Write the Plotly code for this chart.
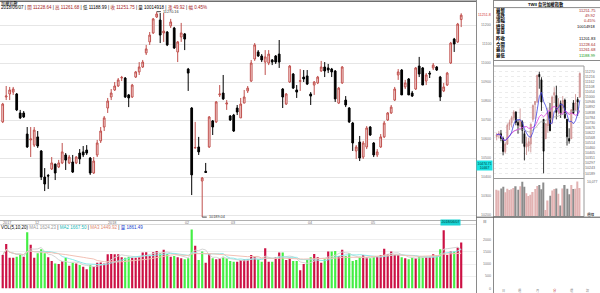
import plotly.graph_objects as go
import pandas as pd
import numpy as np

W, H = 600, 293
def X(px): return px / W
def Y(py): return 1 - py / H
FONT = "Liberation Sans, Noto Sans CJK TC, sans-serif"

# ---------------- daily data (TWII) ----------------
opens = [10690,10821,10837,10847,10837,10737,10737,10626,10595,10568,10611,10537,10400,10408,10442,10468,10453,10474,10516,10474,
         10479,10474,10526,10532,10542,10500,10421,10516,10590,10663,10763,10821,10858,10879,10921,10921,10832,10821,10926,10953,
         10979,11053,11111,11158,11242,11226,11158,11163,11195,11184,11058,11137,11153,10968,10763,10553,10558,10379,10430,10558,
         10695,10690,10832,10842,10784,10721,10726,10763,10711,10789,10853,10905,11021,11058,11037,11005,11000,11016,11037,11047,
         10863,10784,10900,10942,10858,10903,10926,10932,10837,10884,10895,10958,10979,10974,10968,10958,10789,10895,10805,10763,
         10684,10537,10584,10505,10558,10663,10579,10516,10558,10611,10700,10737,10805,10937,10963,10874,10916,10842,10863,10984,
         10974,10905,10947,10974,10979,10926,10853,10884,11000,11126,11111,11228.64]
highs = [10790,10879,10874,10874,10842,10753,10747,10663,10663,10663,10642,10542,10447,10416,10505,10470,10490,10579,10526,10516,
         10516,10510,10547,10563,10568,10505,10505,10595,10663,10721,10816,10863,10900,10921,10932,10926,10837,10890,10958,11005,
         11016,11095,11163,11237,11270.16,11263,11263,11168,11232,11190,11116,11211,11158,10974,10768,10690,10611,10400,10474,10721,
         10700,10800,10884,10937,10805,10726,10732,10779,10816,10858,10879,11016,11105,11068,11047,11068,11068,11021,11042,11121,
         10868,10842,10989,10947,10884,10968,10963,10963,10847,10905,10932,11011,11005,10995,10974,10963,10874,10984,10826,10768,
         10690,10568,10616,10590,10668,10668,10584,10547,10626,10695,10742,10779,10874,10968,10968,10911,10921,10853,10979,11032,
         10979,10947,10958,11000,10984,10932,10895,10953,11111,11132,11211,11261.68]
lows = [10684,10805,10805,10832,10747,10705,10711,10553,10505,10558,10553,10384,10326,10337,10437,10384,10447,10468,10437,10468,
        10421,10468,10468,10505,10516,10411,10416,10505,10579,10642,10737,10805,10853,10874,10905,10816,10768,10816,10921,10937,
        10974,11042,11095,11153,11237,11105,11111,11089,11184,11074,11005,11111,11068,10853,10305,10550,10516,10189.04,10421,10553,
        10621,10684,10821,10805,10753,10695,10637,10726,10711,10789,10842,10900,11011,11032,11005,10937,10989,10989,10995,10974,
        10763,10779,10895,10863,10816,10853,10900,10884,10779,10832,10889,10953,10926,10947,10926,10795,10784,10890,10768,10684,
        10537,10495,10484,10495,10547,10616,10505,10505,10553,10605,10695,10732,10800,10911,10832,10863,10832,10821,10858,10926,
        10884,10884,10921,10963,10958,10800,10847,10879,10995,11058,11105,11188.99]
closes = [10784,10826,10858,10863,10753,10711,10716,10558,10600,10647,10563,10400,10363,10405,10474,10421,10474,10532,10489,10505,
          10426,10505,10495,10516,10526,10421,10484,10579,10642,10711,10800,10842,10879,10911,10924,10821,10816,10884,10953,10979,
          11005,11074,11147,11232,11258,11147,11168,11095,11216,11079,11111,11158,11126,10947,10411,10555,10532,10395,10424,10716,
          10663,10795,10837,10811,10789,10700,10642,10742,10784,10821,10868,11000,11095,11037,11016,11032,11047,11005,11005,11005,
          10821,10837,10984,10868,10847,10907,10916,10889,10826,10900,10926,10979,10958,10963,10953,10811,10868,10979,10779,10690,
          10579,10558,10500,10579,10658,10621,10516,10532,10611,10684,10737,10768,10863,10953,10832,10895,10832,10826,10974,10942,
          10884,10937,10942,10989,10963,10821,10874,10947,11105,11100,11205,11251.75]
volumes = [1375,1820,1264,1264,1305,1403,1305,2305,1792,1264,1445,1611,1445,1278,1125,1028,1000,1125,1264,931,
           1055,1028,958,889,792,958,889,1055,1070,1028,1403,1417,1403,1403,1278,1264,1305,1264,1264,1305,
           1472,1486,1333,1486,1542,1445,1583,1417,1305,1333,1278,1236,1195,1236,2417,1750,1167,1514,1055,1417,
           1236,1195,1236,1305,1236,1125,1097,1097,1167,1195,1195,
           1375,1305,1195,1097,1653,1097,1097,1278,1472,1472,1167,1264,1125,1125,750,1000,1167,1278,1417,1278,
           1055,1195,1514,1514,1542,1333,1583,1333,1445,1125,1167,1305,1375,1278,1236,1305,1305,1375,1625,1403,
           1514,1375,1375,1278,1236,1195,1264,1236,1333,1305,1278,1278,1403,1375,1611,2389,1375,1514,1514,1681,1889]
holidays = ["2018-01-01", "2018-02-13", "2018-02-14", "2018-02-15", "2018-02-16", "2018-02-19",
            "2018-02-20", "2018-02-28", "2018-04-04", "2018-04-05", "2018-04-06", "2018-05-01"]
month_labels = ["2017", "12", "2018", "02", "03", "04", "05"]
price_ticks = [10200, 10300, 10400, 10500, 10600, 10700, 10800, 10900, 11000, 11100, 11200]
vol_ticks = [0, 500, 1000, 1500, 2000]

# weekly candles shown before the daily range (small panel)
pre_open = [10580, 10600, 10610, 10560, 10420, 10500, 10700, 10730, 10780, 10840, 10730]
pre_high = [10620, 10640, 10650, 10580, 10520, 10720, 10760, 10800, 10860, 10850, 10760]
pre_low = [10540, 10560, 10530, 10380, 10400, 10490, 10650, 10680, 10750, 10700, 10610]
pre_close = [10600, 10610, 10560, 10420, 10500, 10700, 10730, 10780, 10840, 10730, 10700]
pre_vol = [6200, 6000, 6500, 6900, 5600, 6400, 6100, 6300, 6600, 7000, 6200]
mini_ticks = [10189, 10243, 10297, 10351, 10405, 10460, 10514, 10568, 10622, 10676, 10730,
              10784, 10838, 10892, 10946, 11000, 11054, 11108, 11162, 11216, 11270]

n = len(closes)
idx = np.arange(1, n + 1)
dates = pd.bdate_range("2017-11-20", "2018-06-07", freq="C", holidays=holidays)[:n]
df = pd.DataFrame({"d": dates, "o": opens, "h": highs, "l": lows, "c": closes, "v": volumes})

fig = go.Figure()

# main candles
fig.add_trace(go.Candlestick(
    x=idx, open=opens, high=highs, low=lows, close=closes, xaxis="x", yaxis="y",
    increasing=dict(line=dict(color="#c0504d", width=1), fillcolor="#fae3e3"),
    decreasing=dict(line=dict(color="#000000", width=1), fillcolor="#000000"),
    whiskerwidth=0, hoverinfo="skip"))

# volume bars
prev = [opens[0]] + closes[:-1]
vcol = ["#cc1144" if c >= p else "#44ee44" for c, p in zip(closes, prev)]
fig.add_trace(go.Bar(x=idx, y=volumes, marker=dict(color=vcol, line=dict(width=0)), width=0.62,
                     xaxis="x2", yaxis="y2", hoverinfo="skip"))
vs = pd.Series(volumes, dtype=float)
for win, col in [(5, "#d4d4d4"), (10, "#8ee8e8"), (20, "#f2c0b4")]:
    fig.add_trace(go.Scatter(x=idx, y=vs.rolling(win, min_periods=1).mean(), mode="lines",
                             line=dict(color=col, width=1), xaxis="x2", yaxis="y2", hoverinfo="skip"))

# weekly (small panel)
wk = df.groupby(df["d"].dt.to_period("W-SUN")).agg(o=("o", "first"), h=("h", "max"), l=("l", "min"),
                                                   c=("c", "last"), v=("v", "sum"))
w_o = pre_open + list(wk["o"]); w_h = pre_high + list(wk["h"])
w_l = pre_low + list(wk["l"]); w_c = pre_close + list(wk["c"]); w_v = pre_vol + list(wk["v"])
wi = np.arange(1, len(w_c) + 1)
fig.add_trace(go.Candlestick(
    x=wi, open=w_o, high=w_h, low=w_l, close=w_c, xaxis="x3", yaxis="y3",
    increasing=dict(line=dict(color="#c98a8a", width=0.8), fillcolor="#e8b4b4"),
    decreasing=dict(line=dict(color="#000000", width=0.8), fillcolor="#000000"),
    whiskerwidth=0, hoverinfo="skip"))
wc = pd.Series(w_c, dtype=float)
for win, col in [(20, "#b0b0b0"), (10, "#e040e0"), (5, "#4040e0")]:
    fig.add_trace(go.Scatter(x=wi, y=wc.rolling(win, min_periods=1).mean(), mode="lines",
                             line=dict(color=col, width=0.8), xaxis="x3", yaxis="y3", hoverinfo="skip"))
wprev = [w_o[0]] + w_c[:-1]
wcol = ["#e2b2b2" if c >= p else "#8c8c8c" for c, p in zip(w_c, wprev)]
fig.add_trace(go.Bar(x=wi, y=w_v, marker=dict(color=wcol, line=dict(width=0)), width=0.6,
                     xaxis="x4", yaxis="y4", hoverinfo="skip"))

# ---------------- axes ----------------
s = 3.5
xr = [1 - 2.7 / s, 1 + (476 - 2.7) / s]
k = 5.263
yr = [11200 - (220 - 25) * k, 11200 + (25 - 3) * k]
vr = [0, (288.5 - 226) / 12.2 * 500]
nw = len(w_c)
ws = (579.8 - 496.7) / (nw - 1)
x3r = [1 - (496.7 - 493.3) / ws, 1 + (584 - 496.7) / ws]
ms = (173.3 - 71.7) / (11270 - 10189)
y3r = [10189 - (178 - 173.3) / ms, 11270 + (71.7 - 67) / ms]

common_x = dict(showticklabels=False, showgrid=False, zeroline=False, showline=False, ticks="",
                fixedrange=True)
fig.update_layout(
    width=W, height=H, margin=dict(l=0, r=0, t=0, b=0), paper_bgcolor="white", plot_bgcolor="white",
    showlegend=False, boxgap=0.3, bargap=0.3, font=dict(family=FONT),
    xaxis=dict(domain=[0, X(476)], range=xr, anchor="y", rangeslider=dict(visible=False), **common_x),
    yaxis=dict(domain=[Y(220), Y(3)], range=yr, anchor="x", tickvals=price_ticks, showticklabels=False,
               gridcolor="#e6e6e6", gridwidth=1, zeroline=False, ticks=""),
    xaxis2=dict(domain=[0, X(476)], range=xr, anchor="y2", **common_x),
    yaxis2=dict(domain=[Y(288.5), Y(226)], range=vr, anchor="x2", tickvals=vol_ticks[1:],
                showticklabels=False, gridcolor="#efefef", zeroline=False, ticks=""),
    xaxis3=dict(domain=[X(493.3), X(584)], range=x3r, anchor="y3", rangeslider=dict(visible=False),
                **common_x),
    yaxis3=dict(domain=[Y(178), Y(67)], range=y3r, anchor="x3", side="right", tickvals=mini_ticks,
                ticktext=[str(t) for t in mini_ticks], tickfont=dict(size=3.6, color="#666"),
                gridcolor="#ececec", griddash="dot", zeroline=False, ticks="", ticklen=0),
    xaxis4=dict(domain=[X(493.3), X(584)], range=x3r, anchor="y4", **common_x),
    yaxis4=dict(domain=[Y(216), Y(180)], range=[0, max(w_v) * 1.04], anchor="x4",
                showticklabels=False, showgrid=False, zeroline=False, ticks=""),
)

# ---------------- shapes ----------------
shapes = []
def hline(py, x0, x1, color="#999", w=1):
    shapes.append(dict(type="line", xref="paper", yref="paper", x0=X(x0), x1=X(x1), y0=Y(py), y1=Y(py),
                       line=dict(color=color, width=w)))
def vline(px, y0, y1, color="#999", w=1):
    shapes.append(dict(type="line", xref="paper", yref="paper", x0=X(px), x1=X(px), y0=Y(y0), y1=Y(y1),
                       line=dict(color=color, width=w)))
hline(1.2, 0, 476, "#6e6e6e", 1.5)
vline(476.5, 0, 293, "#8a8a8a")
hline(220.5, 0, 476, "#b0b0b0")
hline(224.5, 0, 476, "#d8d8d8")
vline(493.5, 0, 293, "#8a8a8a")
hline(0.5, 493.5, 600, "#8a8a8a")
hline(7.6, 493.5, 600, "#8a8a8a")
hline(60.5, 493.5, 600, "#8a8a8a")
shapes.append(dict(type="rect", xref="paper", yref="paper", x0=X(493.5), x1=X(584), y0=Y(216.5), y1=Y(66),
                   line=dict(color="#9a9a9a", width=1)))
hline(178.5, 493.5, 584, "#9a9a9a")
hline(217.2, 476.5, 600, "#555555")
# high / low leaders
i_hi = int(np.argmax(highs)); i_lo = int(np.argmin(lows))
shapes.append(dict(type="line", xref="x", yref="y", x0=idx[i_hi], x1=idx[i_hi] + 1.2,
                   y0=highs[i_hi], y1=highs[i_hi], line=dict(color="#444", width=1)))
shapes.append(dict(type="line", xref="x", yref="y", x0=idx[i_lo], x1=idx[i_lo] + 1.3,
                   y0=lows[i_lo], y1=lows[i_lo], line=dict(color="#444", width=1)))
fig.update_layout(shapes=shapes)

# ---------------- text ----------------
ann = []
def txt(px, py, s, size=4, color="#000", anchor="left", **kw):
    d = dict(x=X(px), y=Y(py), xref="paper", yref="paper", text=s, showarrow=False, xanchor=anchor,
             yanchor="middle", font=dict(size=size, color=color, family=FONT), borderpad=0)
    d.update(kw)
    ann.append(d)

R = "#a51c1c"
txt(0, 3.2, "加權指數", 4.2)
sep = "<span style='color:#000'> | </span>"
header = ("<span style='color:#000'>2018/06/07</span>" + sep +
          f"<span style='color:{R}'>開 11228.64</span>" + sep +
          f"<span style='color:{R}'>高 11261.68</span>" + sep +
          "<span style='color:#000'>低 11188.99</span>" + sep +
          f"<span style='color:{R}'>收 11251.75</span>" + sep +
          "<span style='color:#000'>量 10014918</span>" + sep +
          f"<span style='color:{R}'>漲 49.92</span>" + sep +
          f"<span style='color:{R}'>幅 0.45%</span>")
txt(0, 7.8, header, 4.5)

# price labels
for p in price_ticks:
    txt(492, 25 + (11200 - p) / k, str(p), 3.6, "#777", "right")
txt(492, 14.6, f"{closes[-1]:.1f}", 3.6, "#d03030", "right")
ann.append(dict(x=X(484.7), y=Y(165), xref="paper", yref="paper", showarrow=False,
                text="10474.71<br>10467", font=dict(size=3.4, color="#003a3a", family=FONT),
                bgcolor="#19e3e3", borderpad=0.5, xanchor="center", yanchor="middle"))
# extreme labels
ann.append(dict(x=idx[i_hi] + 1.3, y=highs[i_hi], xref="x", yref="y", text=f"{highs[i_hi]:.2f}",
                showarrow=False, xanchor="left", yanchor="middle", font=dict(size=3.8, color="#333", family=FONT)))
ann.append(dict(x=idx[i_lo] + 1.4, y=lows[i_lo], xref="x", yref="y", text=f"{lows[i_lo]:.2f}",
                showarrow=False, xanchor="left", yanchor="middle", font=dict(size=3.8, color="#333", family=FONT)))

# month labels
mstart = [0] + [i for i in range(1, n) if dates[i].month != dates[i - 1].month]
for j, i in enumerate(mstart[:len(month_labels)]):
    ann.append(dict(x=idx[i] - 0.4, y=Y(222.6), xref="x", yref="paper", text=month_labels[j], showarrow=False,
                    xanchor="left", yanchor="middle", font=dict(size=3.8, color="#777", family=FONT)))
ann.append(dict(x=X(450), y=Y(222.6), xref="paper", yref="paper", text="2018/06/07", showarrow=False,
                xanchor="center", yanchor="middle", bgcolor="#19d4d4", borderpad=0.4,
                font=dict(size=3.6, color="#003a3a", family=FONT)))
txt(485, 222.2, "日", 3.6, "#555", "center")

# volume header and labels
vh = ("<span style='color:#000'>VOL(5,10,20)</span> "
      "<span style='color:#9a9a9a'>MA1 1624.23</span> | "
      "<span style='color:#20b8b8'>MA2 1667.50</span> | "
      "<span style='color:#e08a70'>MA3 1449.92</span> | "
      "<span style='color:#2040d0'>量 1861.49</span>")
txt(0, 227.5, vh, 4.5)
for v in vol_ticks:
    txt(492, 288.5 - v / 500 * 12.2, str(v), 3.6, "#777", "right")

# right info table
txt(546, 4.2, "<b>TWII 台灣加權指數</b>", 4.2, "#000", "center")
rows = [("最新", "11251.75", R, 10.3), ("漲跌", "49.92", R, 15.7), ("漲幅", "0.45%", R, 20.7),
        ("總量", "10014918", "#000", 26.3), ("單量", "", "#000", 32.0), ("昨收", "11201.83", "#000", 39.0),
        ("今開", "11228.64", R, 44.0), ("最高", "11261.68", R, 49.7), ("最低", "11188.99", "#119911", 55.0)]
for lab, val, col, py in rows:
    txt(495, py, f"<b>{lab}</b>", 4.4, "#000", "left")
    txt(597, py, val, 4.0, col, "right")
txt(586, 181.8, "10,077", 3.4, "#666", "left")
txt(586, 214.5, "週線", 3.6, "#000", "left")
for px, lab in [(503, "日"), (520, "週"), (537, "月"), (555, "分"), (572, "還"), (588, "設")]:
    txt(px, 290.5, lab, 3.2, "#c02020" if lab == "分" else "#888", "center")

fig.update_layout(annotations=ann)
fig.write_html("out.html")
